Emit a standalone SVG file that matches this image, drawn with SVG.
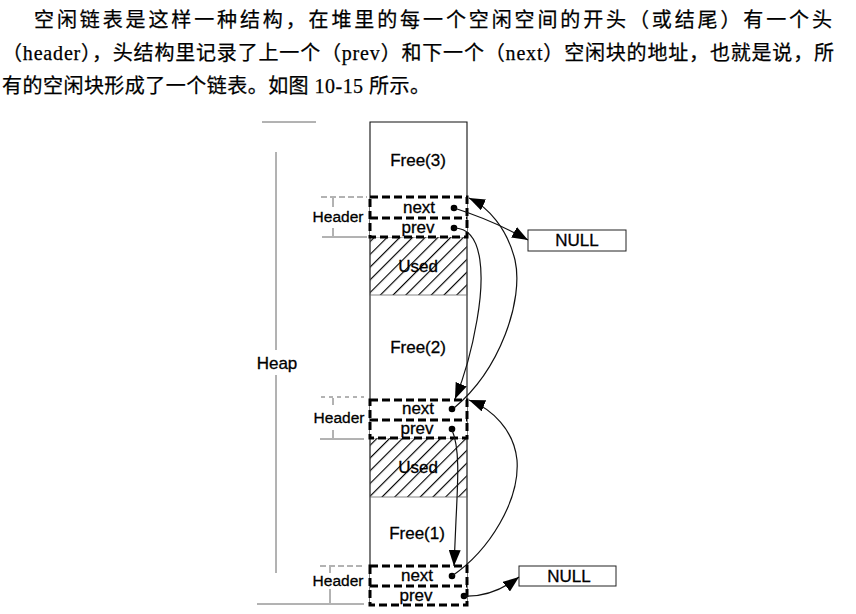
<svg xmlns="http://www.w3.org/2000/svg" width="856" height="614" viewBox="0 0 856 614">
<style>
.para{font-family:"Liberation Serif","Noto Sans CJK SC",serif;font-size:20px;fill:#000;stroke:#000;stroke-width:0.25}
.lbl{font-family:"Liberation Sans",Arial,sans-serif;fill:#000;stroke:#000;stroke-width:0.3;text-anchor:middle;dominant-baseline:central}
.thin{fill:none;stroke:#111;stroke-width:1.1}
.hdr{fill:none;stroke:#000;stroke-width:3;stroke-dasharray:8 4}
.conn{fill:none;stroke:#111;stroke-width:1.2}
.dot{fill:#000}
.guide{fill:none;stroke:#555;stroke-width:0.9}
</style>
<defs>
<pattern id="hatch" patternUnits="userSpaceOnUse" width="9" height="9" patternTransform="rotate(45)">
<line x1="0" y1="0" x2="0" y2="9" stroke="#000" stroke-width="2.3"/>
</pattern>
<marker id="arr" markerUnits="userSpaceOnUse" markerWidth="17" markerHeight="12" refX="16" refY="6" orient="auto">
<path d="M0,0 L16,6 L0,12 Z" fill="#000"/>
</marker>
</defs>
<rect width="856" height="614" fill="#fff"/>
<g id="paragraph">
<text class="para" x="34" y="27" textLength="798" lengthAdjust="spacing">空闲链表是这样一种结构，在堆里的每一个空闲空间的开头（或结尾）有一个头</text>
<text class="para" x="2" y="60" textLength="832" lengthAdjust="spacing">（header），头结构里记录了上一个（prev）和下一个（next）空闲块的地址，也就是说，所</text>
<text class="para" x="2" y="93" textLength="428" lengthAdjust="spacing">有的空闲块形成了一个链表。如图 10-15 所示。</text>
</g>
<g id="heap">
<line class="guide" x1="262" y1="122" x2="316" y2="122"/>
<line class="guide" x1="276" y1="152" x2="276" y2="350"/>
<line class="guide" x1="276" y1="375" x2="276" y2="573"/>
<line class="guide" x1="257" y1="604" x2="364" y2="604"/>
<text class="lbl" x="277" y="363" font-size="17">Heap</text>
</g>
<g id="column">
<path class="thin" d="M370,605 L370,122 L467,122 L467,605"/>
</g>
<g id="free3"><text class="lbl" x="418" y="160" font-size="17">Free(3)</text></g>
<g id="used1">
<rect x="370" y="237" width="97" height="58" fill="url(#hatch)" stroke="#666" stroke-width="0.8"/>
<text class="lbl" x="418" y="266" font-size="17">Used</text>
</g>
<g id="free2"><text class="lbl" x="418" y="347" font-size="17">Free(2)</text></g>
<g id="used2">
<rect x="370" y="438" width="97" height="59" fill="url(#hatch)" stroke="#666" stroke-width="0.8"/>
<text class="lbl" x="418" y="467" font-size="17">Used</text>
</g>
<g id="free1"><text class="lbl" x="417" y="533" font-size="17">Free(1)</text></g>
<g id="header3">
<rect x="370" y="197" width="97" height="40" fill="#fff"/>
<rect class="hdr" x="370" y="197" width="97" height="40"/>
<line class="hdr" x1="370" y1="218" x2="467" y2="218"/>
<text class="lbl" x="419" y="207" font-size="17">next</text>
<text class="lbl" x="418" y="227" font-size="17">prev</text>
<circle class="dot" cx="454" cy="208" r="3.3"/>
<circle class="dot" cx="454" cy="228" r="3.3"/>
<line class="guide" x1="321" y1="197" x2="367" y2="197" stroke-dasharray="6 3"/>
<line class="guide" x1="322" y1="237" x2="367" y2="237"/>
<line class="guide" x1="333" y1="198" x2="333" y2="207"/>
<line class="guide" x1="333" y1="228" x2="333" y2="236"/>
<text class="lbl" x="338" y="216" font-size="15.5">Header</text>
</g>
<g id="header2">
<rect x="370" y="400" width="97" height="38" fill="#fff"/>
<rect class="hdr" x="370" y="400" width="97" height="38"/>
<line class="hdr" x1="370" y1="420" x2="467" y2="420"/>
<text class="lbl" x="418" y="408" font-size="17">next</text>
<text class="lbl" x="417" y="428" font-size="17">prev</text>
<circle class="dot" cx="452" cy="409" r="3.3"/>
<circle class="dot" cx="452" cy="429" r="3.3"/>
<line class="guide" x1="321" y1="397" x2="364" y2="397" stroke-dasharray="4 4"/>
<line class="guide" x1="320" y1="439" x2="364" y2="439"/>
<line class="guide" x1="333" y1="398" x2="333" y2="405"/>
<line class="guide" x1="333" y1="430" x2="333" y2="438"/>
<text class="lbl" x="339" y="417" font-size="15.5">Header</text>
</g>
<g id="header1">
<rect x="370" y="566" width="97" height="39" fill="#fff"/>
<rect class="hdr" x="370" y="566" width="97" height="39"/>
<line class="hdr" x1="370" y1="586" x2="467" y2="586"/>
<text class="lbl" x="417" y="575" font-size="17">next</text>
<text class="lbl" x="416" y="595" font-size="17">prev</text>
<circle class="dot" cx="452" cy="576" r="3.3"/>
<circle class="dot" cx="464" cy="596" r="3.3"/>
<line class="guide" x1="320" y1="566" x2="364" y2="566" stroke-dasharray="6 3"/>
<line class="guide" x1="330" y1="567" x2="330" y2="573"/>
<line class="guide" x1="330" y1="589" x2="330" y2="603"/>
<text class="lbl" x="338" y="580" font-size="15.5">Header</text>
</g>
<g id="null1">
<rect x="528" y="230" width="98" height="21" fill="#fff" stroke="#222" stroke-width="1"/>
<text class="lbl" x="577" y="240.5" font-size="17">NULL</text>
</g>
<g id="null2">
<rect x="519" y="566" width="97" height="20" fill="#fff" stroke="#222" stroke-width="1"/>
<text class="lbl" x="569" y="576" font-size="17">NULL</text>
</g>
<g id="connectors">
<path class="conn" d="M454,208 Q492,220 528,240" marker-end="url(#arr)"/>
<path class="conn" d="M454,228 C485,228 484,280 477,320 C471,355 463,380 455,399" marker-end="url(#arr)"/>
<path class="conn" d="M454,408 C500,370 524,300 515,260 C507,228 488,207 469,198" marker-end="url(#arr)"/>
<path class="conn" d="M452,430 C460,448 458,480 456,520 L454,566" marker-end="url(#arr)"/>
<path class="conn" d="M452,576 C490,550 520,500 517,460 C514,430 492,409 469,400" marker-end="url(#arr)"/>
<path class="conn" d="M464,596 C485,597 502,590 519,577" marker-end="url(#arr)"/>
</g>
</svg>
